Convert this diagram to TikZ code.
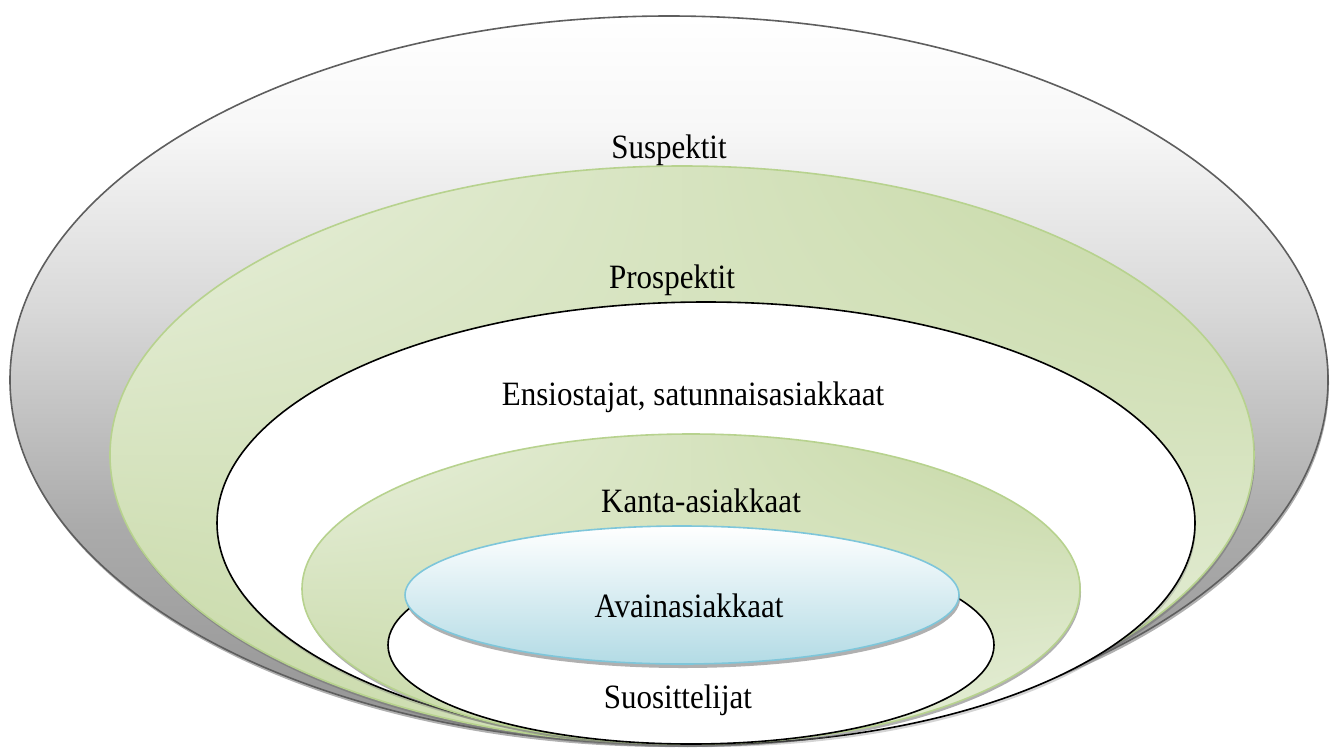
\documentclass[tikz,border=0pt]{standalone}
\usepackage{fontspec}
\setmainfont{Liberation Serif}
\usetikzlibrary{shadings}
\definecolor{grayline}{HTML}{5E5E5E}
\definecolor{greenline}{HTML}{B7D28E}
\definecolor{greendark}{HTML}{C3D6A0}
\definecolor{greenlight}{HTML}{EAF1DF}
\definecolor{blueline}{HTML}{7EC6DA}
\definecolor{bluebot}{HTML}{B3DBE5}
\definecolor{shadowcol}{HTML}{707070}
% vertical fade for the outer ring; the filled shape spans 25bp (bottom) to 75bp (top)
\pgfdeclareverticalshading{grayfade}{100bp}{%
  color(0bp)=(black!42); color(25bp)=(black!42); color(40bp)=(black!33);
  color(55bp)=(black!15); color(67.5bp)=(black!3); color(75bp)=(white);
  color(100bp)=(white)}
\tikzset{
  lbl/.style={font=\fontsize{31}{31}\selectfont, inner sep=0pt, anchor=base},
  ringshadow/.style={fill=shadowcol, opacity=0.55},
  greenring/.style={draw=greenline, line width=1.6pt,
    upper left=greenlight, lower right=greenlight,
    upper right=greendark, lower left=greendark},
  whitering/.style={draw=black, fill=white, line width=1.6pt},
}
\newcommand{\tallt}[1]{\scalebox{1}[1.1]{#1}}
\begin{document}
\begin{tikzpicture}[x=1pt, y=-1pt]
\useasboundingbox (0,0) rectangle (1335,747);

% outer ring: Suspektit
\fill[ringshadow] (670,383) ellipse [x radius=659, y radius=364];
\shade[shading=grayfade, draw=grayline, line width=1.6pt]
  (669,380) ellipse [x radius=659, y radius=364];

% Prospektit
\fill[ringshadow] (683,458) ellipse [x radius=572, y radius=289];
\shade[greenring] (682,455) ellipse [x radius=572, y radius=289];

% Ensiostajat, satunnaisasiakkaat
\fill[ringshadow, opacity=0.3] (707,526) ellipse [x radius=489, y radius=221];
\draw[whitering] (706,523) ellipse [x radius=489, y radius=221];

% Kanta-asiakkaat
\fill[ringshadow] (692,592) ellipse [x radius=389, y radius=155];
\shade[greenring] (691,589) ellipse [x radius=389, y radius=155];

% Suosittelijat
\draw[whitering] (691,645) ellipse [x radius=303, y radius=99];

% Avainasiakkaat
\fill[ringshadow] (683,599) ellipse [x radius=277, y radius=69];
\shade[top color=white, bottom color=bluebot, draw=blueline, line width=1.6pt]
  (682,595) ellipse [x radius=277, y radius=69];

\node[lbl] (suspektit) at (669,158) {\tallt{Suspektit}};
\node[lbl] (prospektit) at (672,288) {\tallt{Prospektit}};
\node[lbl] (ensiostajat) at (693,405) {\tallt{Ensiostajat, satunnaisasiakkaat}};
\node[lbl] (kanta) at (701,512) {\tallt{Kanta-asiakkaat}};
\node[lbl] (avain) at (689,617) {\tallt{Avainasiakkaat}};
\node[lbl] (suositt) at (678,708) {\tallt{Suosittelijat}};
\end{tikzpicture}
\end{document}
